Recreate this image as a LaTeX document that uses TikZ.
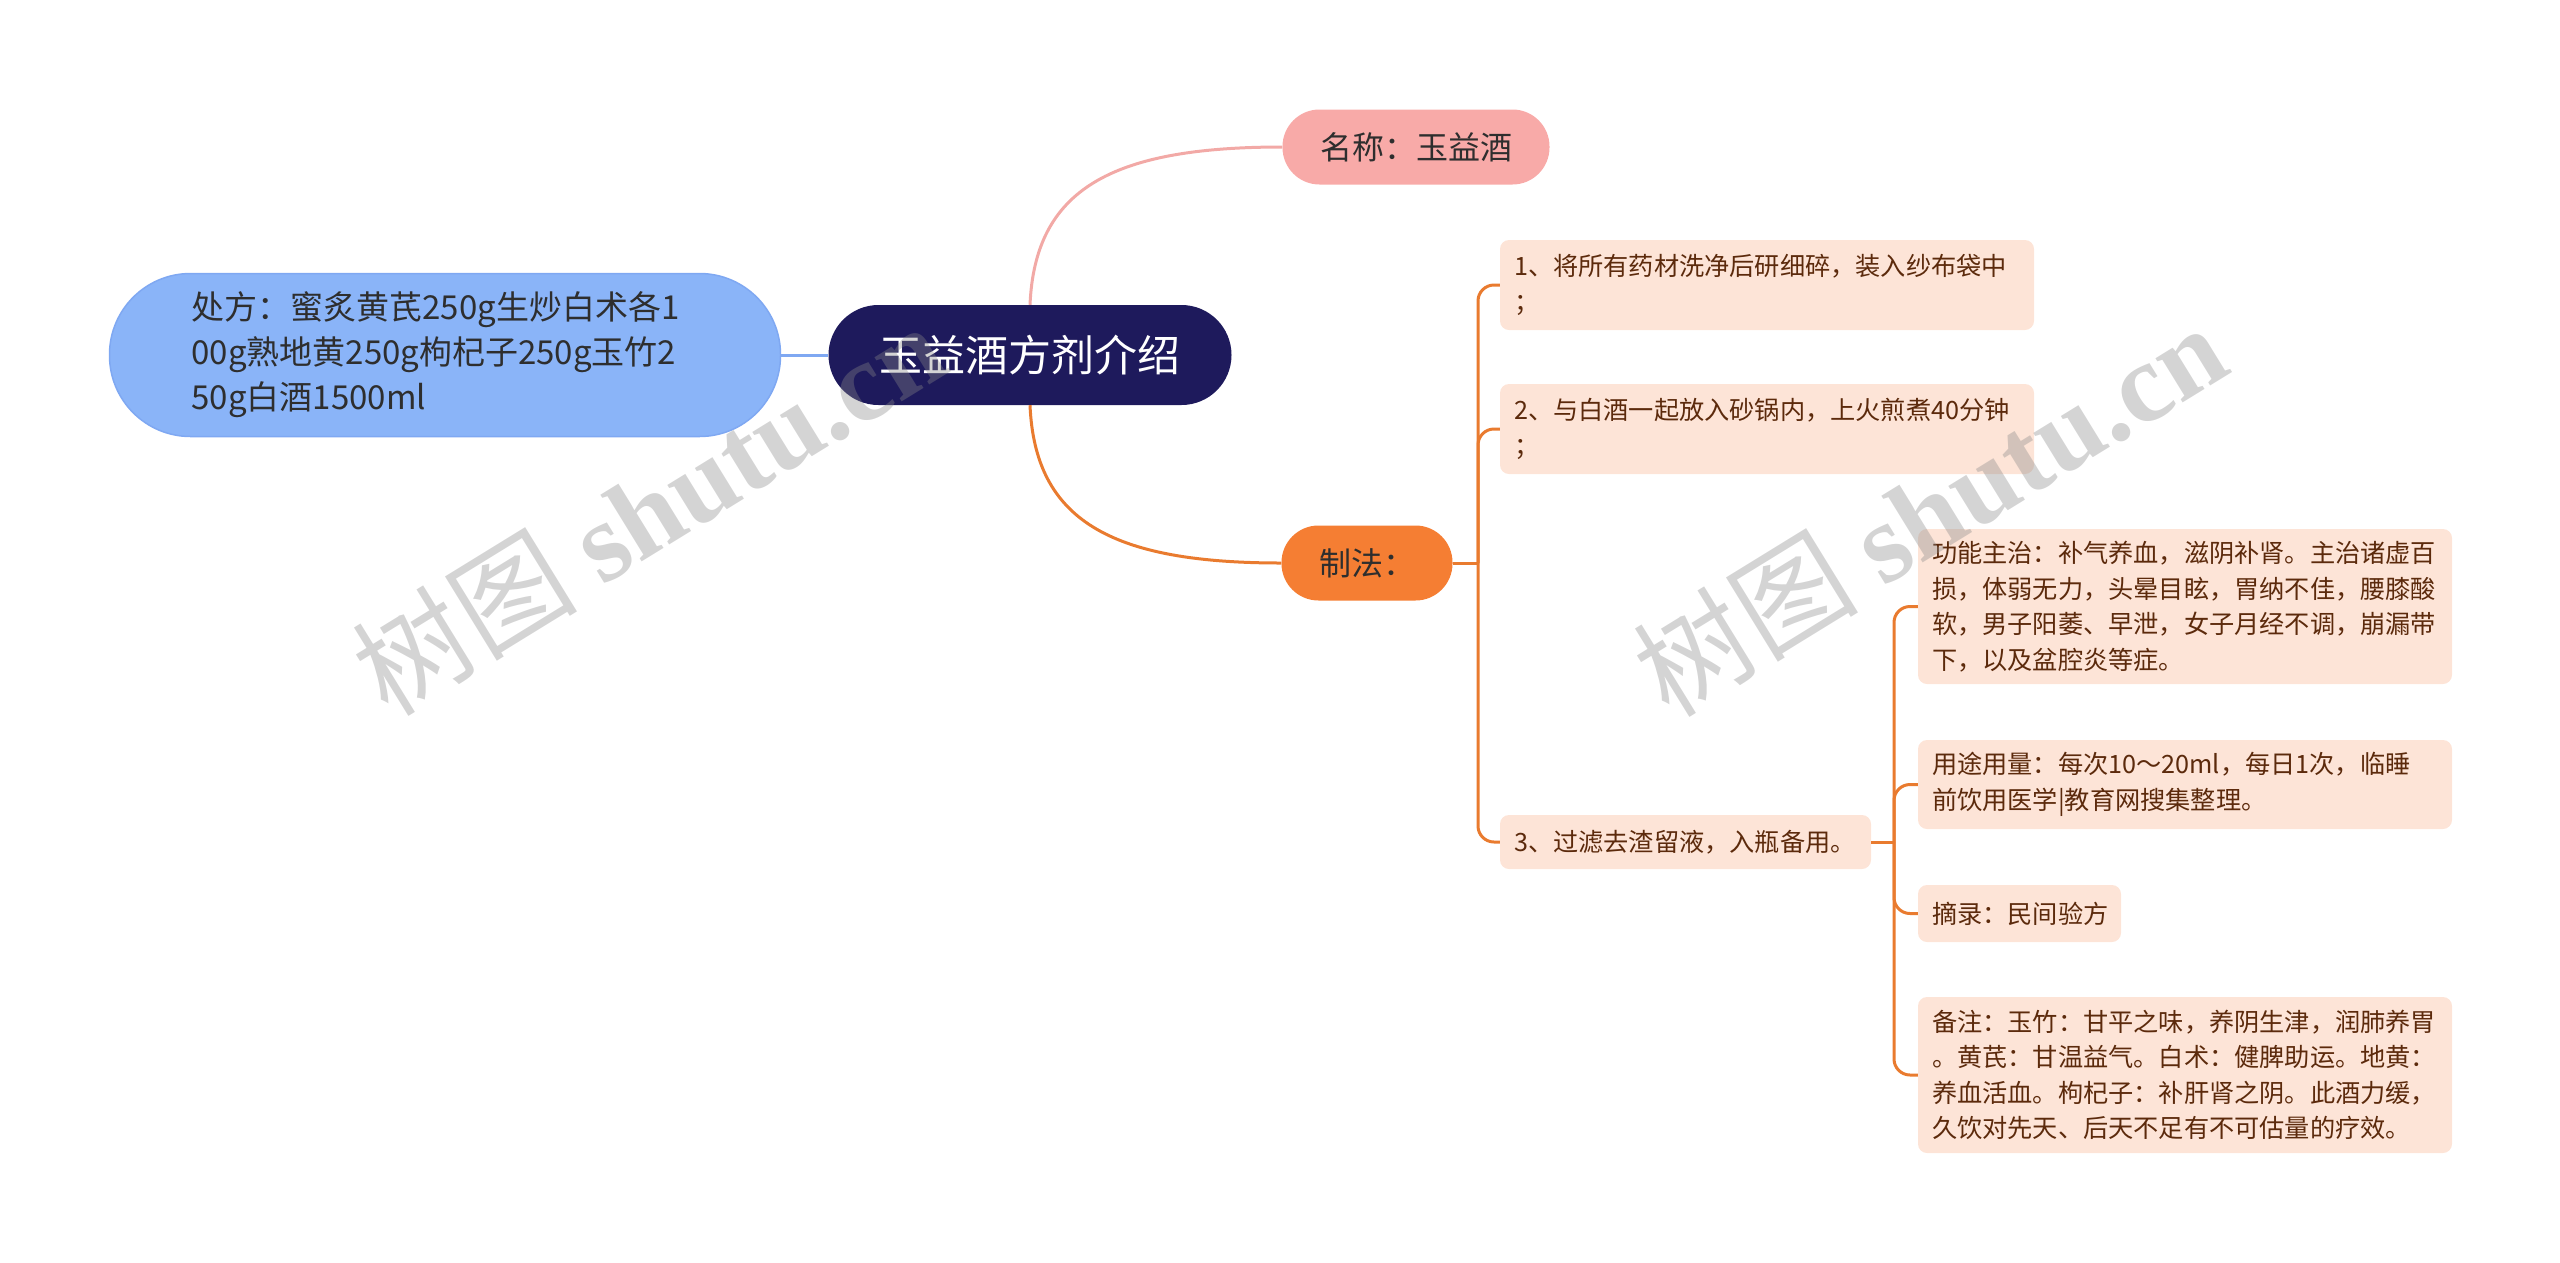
\documentclass[tikz,border=0pt]{standalone}
\usepackage{fontspec}
\setmainfont{Noto Sans CJK SC}
\newfontfamily\wmlatin{Liberation Serif}
\definecolor{navy}{HTML}{1E1A5C}
\definecolor{bluefill}{HTML}{8AB4F8}
\definecolor{blueline}{HTML}{7FA8F2}
\definecolor{pinkfill}{HTML}{F8AAA8}
\definecolor{pinkline}{HTML}{F2A9A6}
\definecolor{orfill}{HTML}{F57E33}
\definecolor{orline}{HTML}{E97B2F}
\definecolor{peach}{HTML}{FDE4D7}
\definecolor{brownt}{HTML}{5C2A0C}
\definecolor{dtext}{HTML}{2E2E2E}
\definecolor{wmgray}{HTML}{888888}
\begin{document}
\begin{tikzpicture}[x=1pt,y=-1pt,
  cbox/.style={fill=peach, rounded corners=9, inner xsep=14, inner ysep=0, align=left,
    text=brownt, font=\fontsize{25.2}{35.5}\selectfont},
  wide/.style={cbox, minimum width=534, text width=506},
  oline/.style={draw=orline, line width=3},
  wm/.style={text=wmgray, text opacity=0.36, inner sep=0, font=\fontsize{113}{120}\selectfont}
]
\useasboundingbox (0,0) rectangle (2560,1262);

% central topic
\node[fill=navy, rounded corners=50, minimum width=403, minimum height=100, inner sep=0,
  text=white, font=\fontsize{43}{50}\selectfont] (root) at (1030,355) {玉益酒方剂介绍};

% left topic
\node[fill=bluefill, draw=blueline, line width=1.5, rounded corners=81, minimum width=671,
  minimum height=163, text width=507, inner xsep=82, inner ysep=0, align=left, text=dtext,
  font=\fontsize{33}{45}\selectfont] (left) at (445,355)
  {处方：蜜炙黄芪250g生炒白术各1\\00g熟地黄250g枸杞子250g玉竹2\\50g白酒1500ml};

% right topics
\node[fill=pinkfill, rounded corners=37, minimum width=267, minimum height=75, inner sep=0,
  text=dtext, font=\fontsize{32}{38}\selectfont] (name) at (1416,147) {名称：玉益酒};
\node[fill=orfill, rounded corners=37, minimum width=171, minimum height=75, inner sep=0,
  text=dtext, font=\fontsize{32}{38}\selectfont] (zf) at (1367,563) {制法：};

% steps
\node[wide, minimum height=90] (c1) at (1767,285) {1、将所有药材洗净后研细碎，装入纱布袋中\\；};
\node[wide, minimum height=90] (c2) at (1767,429) {2、与白酒一起放入砂锅内，上火煎煮40分钟\\；};
\node[cbox, minimum width=371, text width=343, minimum height=54] (c3) at (1685.5,842) {3、过滤去渣留液，入瓶备用。};

% details
\node[wide, minimum height=155] (g1) at (2185,606.5)
  {功能主治：补气养血，滋阴补肾。主治诸虚百\\损，体弱无力，头晕目眩，胃纳不佳，腰膝酸\\软，男子阳萎、早泄，女子月经不调，崩漏带\\下，以及盆腔炎等症。};
\node[wide, minimum height=89] (g2) at (2185,784.5)
  {用途用量：每次10～20ml，每日1次，临睡\\前饮用医学|教育网搜集整理。};
\node[cbox, minimum width=203, text width=175, minimum height=57] (g3) at (2019.5,913.5) {摘录：民间验方};
\node[wide, minimum height=156] (g4) at (2185,1075)
  {备注：玉竹：甘平之味，养阴生津，润肺养胃\\。黄芪：甘温益气。白术：健脾助运。地黄：\\养血活血。枸杞子：补肝肾之阴。此酒力缓，\\久饮对先天、后天不足有不可估量的疗效。};

% connectors
\draw[draw=blueline, line width=3] (left.east) -- (root.west);
\draw[draw=pinkline, line width=3] (root.north) .. controls (1035,190) and (1110,147) .. (name.west);
\draw[oline] (root.south) .. controls (1035,520) and (1110,563) .. (zf.west);

\coordinate (jA) at (1478,563);
\draw[oline] (zf.east) -- (jA);
\foreach \c in {c1,c2,c3} \draw[oline, rounded corners=16] (jA) |- (\c.west);

\coordinate (jB) at (1894,842);
\draw[oline] (c3.east) -- (jB);
\foreach \g in {g1,g2,g3,g4} \draw[oline, rounded corners=16] (jB) |- (\g.west);

% watermarks
\node[wm, rotate=31.6] (wm1) at (648,508) {树图 {\wmlatin\bfseries shutu.cn}};
\node[wm, rotate=31.6] (wm2) at (1929,509) {树图 {\wmlatin\bfseries shutu.cn}};
\end{tikzpicture}
\end{document}
